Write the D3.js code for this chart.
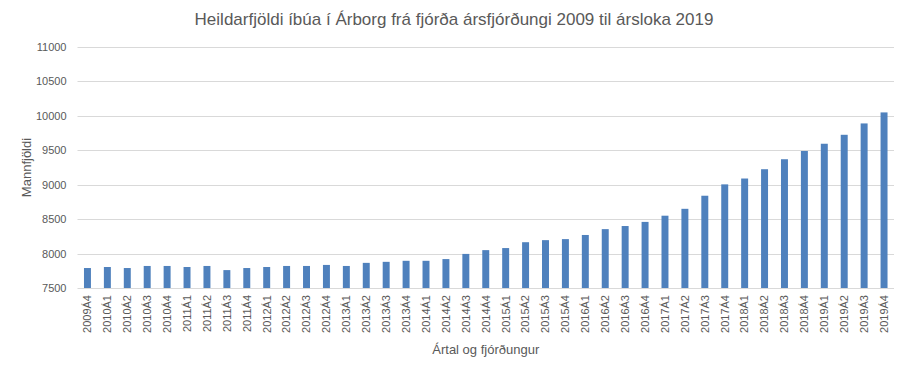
<!DOCTYPE html>
<html>
<head>
<meta charset="utf-8">
<script src="https://cdn.jsdelivr.net/npm/d3@7"></script>
<style>
  body { margin: 0; background: #fff; }
  text { font-family: "Liberation Sans", Arial, sans-serif; fill: #595959; }
</style>
</head>
<body>
<div id="graph"></div>
<script>
// quarters from 2009Á4 to 2019Á4
var quarters = ["2009Á4",
  "2010Á1","2010Á2","2010Á3","2010Á4",
  "2011Á1","2011Á2","2011Á3","2011Á4",
  "2012Á1","2012Á2","2012Á3","2012Á4",
  "2013Á1","2013Á2","2013Á3","2013Á4",
  "2014Á1","2014Á2","2014Á3","2014Á4",
  "2015Á1","2015Á2","2015Á3","2015Á4",
  "2016Á1","2016Á2","2016Á3","2016Á4",
  "2017Á1","2017Á2","2017Á3","2017Á4",
  "2018Á1","2018Á2","2018Á3","2018Á4",
  "2019Á1","2019Á2","2019Á3","2019Á4"];

// population
var population = [7790,
  7805, 7790, 7820, 7820,
  7805, 7820, 7760, 7790,
  7805, 7820, 7820, 7835,
  7820, 7865, 7880, 7895,
  7895, 7920, 7995, 8050,
  8080, 8165, 8195, 8210,
  8270, 8355, 8400, 8460,
  8550, 8650, 8840, 9005,
  9090, 9225, 9370, 9490,
  9595, 9725, 9890, 10050];

var yTicks = [7500, 8000, 8500, 9000, 9500, 10000, 10500, 11000];

var data = quarters.map(function(q, i) { return {q: q, v: population[i]}; });

var svg = d3.select("#graph").append("svg")
    .attr("width", 908)
    .attr("height", 369);

var margin = {top: 47, right: 14, bottom: 81, left: 77.5},
    width = 908 - margin.left - margin.right,
    height = 369 - margin.top - margin.bottom;

var g = svg.append("g")
    .attr("transform", "translate(" + margin.left + "," + margin.top + ")");

var x = d3.scaleBand()
    .domain(quarters)
    .range([0, width])
    .paddingInner(0.65)
    .paddingOuter(0.325);

var y = d3.scaleLinear()
    .domain([7500, 11000])
    .range([height, 0]);

// gridlines
g.append("g")
    .selectAll("line")
    .data(yTicks)
    .enter().append("line")
    .attr("x1", 0)
    .attr("x2", width)
    .attr("y1", function(d) { return Math.round(y(d)) + 0.5; })
    .attr("y2", function(d) { return Math.round(y(d)) + 0.5; })
    .attr("stroke", "#d9d9d9")
    .attr("stroke-width", 1);

// y axis labels
var yAxis = g.append("g")
    .call(d3.axisLeft(y).tickValues(yTicks).tickSize(0).tickPadding(11).tickFormat(d3.format("d")));
yAxis.select(".domain").remove();
yAxis.selectAll("text").style("font-size", "11px").attr("fill", "#595959");

// bars
g.selectAll(".bar")
    .data(data)
    .enter().append("rect")
    .attr("class", "bar")
    .attr("x", function(d) { return x(d.q); })
    .attr("width", x.bandwidth())
    .attr("y", function(d) { return y(d.v); })
    .attr("height", function(d) { return height - y(d.v); })
    .attr("fill", "#4f81bd");

// x axis labels, rotated
var xAxis = g.append("g")
    .attr("transform", "translate(0," + height + ")")
    .call(d3.axisBottom(x).tickSize(0).tickPadding(0));
xAxis.select(".domain").remove();
xAxis.selectAll("text")
    .style("font-size", "11px")
    .attr("fill", "#595959")
    .attr("transform", "rotate(-90)")
    .attr("x", -7)
    .attr("y", 0)
    .attr("dy", "0.35em")
    .style("text-anchor", "end");

// title
svg.append("text")
    .attr("x", 454)
    .attr("y", 25)
    .attr("text-anchor", "middle")
    .style("font-size", "17px")
    .text("Heildarfjöldi íbúa í Árborg frá fjórða ársfjórðungi 2009 til ársloka 2019");

// axis titles
svg.append("text")
    .attr("x", margin.left + width / 2)
    .attr("y", 354)
    .attr("text-anchor", "middle")
    .style("font-size", "13px")
    .text("Ártal og fjórðungur");

svg.append("text")
    .attr("transform", "translate(31," + (margin.top + height / 2) + ") rotate(-90)")
    .attr("text-anchor", "middle")
    .style("font-size", "13px")
    .text("Mannfjöldi");
</script>
</body>
</html>
